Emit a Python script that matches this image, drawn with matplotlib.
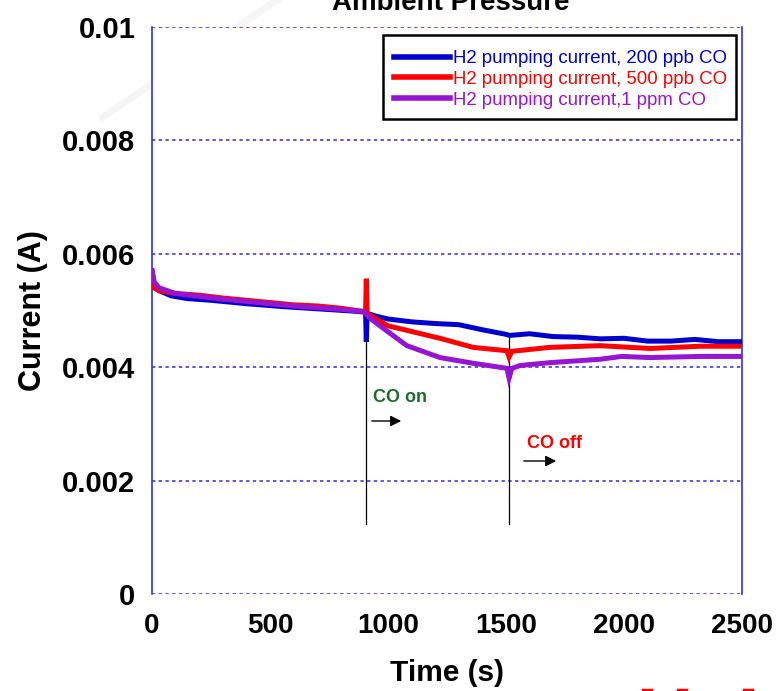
import matplotlib
matplotlib.use("Agg")
import matplotlib.pyplot as plt
from matplotlib.lines import Line2D
from matplotlib.patches import Rectangle

plt.rcParams['font.family'] = ['Liberation Sans', 'DejaVu Sans']

# ---- data ----
t_200 = [0, 10, 30, 80, 150, 250, 400, 550, 700, 850, 905, 908, 912, 950, 1000,
         1100, 1200, 1300, 1400, 1500, 1515, 1600, 1700, 1800, 1900, 2000, 2100,
         2200, 2300, 2400, 2500]
i_200 = [0.0057, 0.0054, 0.00535, 0.00526, 0.00521, 0.00518, 0.00512, 0.00507,
         0.00503, 0.00499, 0.00497, 0.00445, 0.00495, 0.00490, 0.00485,
         0.00480, 0.00477, 0.00475, 0.00466, 0.00458, 0.00456, 0.00459, 0.00454,
         0.00453, 0.00450, 0.00451, 0.00446, 0.00446, 0.00449, 0.00445, 0.00445]

t_500 = [0, 10, 30, 100, 200, 300, 400, 500, 600, 700, 800, 900, 905, 908, 912,
         950, 1000, 1080, 1220, 1360, 1504, 1513, 1525, 1686, 1898, 2110, 2322, 2500]
i_500 = [0.0057, 0.0054, 0.00535, 0.0053, 0.00527, 0.00522, 0.00518, 0.00514,
         0.0051, 0.00508, 0.00504, 0.00498, 0.00497, 0.00556, 0.00495,
         0.00485, 0.00473, 0.00465, 0.00451, 0.00435, 0.00429, 0.00418, 0.00428,
         0.00435, 0.00438, 0.00433, 0.00437, 0.00437]

t_1ppm = [0, 10, 30, 100, 200, 300, 400, 500, 600, 700, 800, 900, 910, 937,
          1008, 1080, 1220, 1360, 1504, 1513, 1525, 1560, 1686, 1898, 1990,
          2110, 2322, 2500]
i_1ppm = [0.0057, 0.0055, 0.0054, 0.0053, 0.00525, 0.0052, 0.00516, 0.00512,
          0.00508, 0.00505, 0.00502, 0.00498, 0.00492, 0.00482,
          0.00460, 0.00438, 0.00417, 0.00407, 0.00398, 0.00381, 0.00398, 0.00403,
          0.00408, 0.00414, 0.00419, 0.00417, 0.00419, 0.00419]

labels = ["H2 pumping current, 200 ppb CO",
          "H2 pumping current, 500 ppb CO",
          "H2 pumping current,1 ppm CO"]
colors = ["#0000CC", "#FF0000", "#9614D2"]

co_on_t = 907
co_off_t = 1513
marker_bottom = 0.00123
co_on_top = 0.00492
co_off_top = 0.00456

xticks = [0, 500, 1000, 1500, 2000, 2500]
yticks = [0, 0.002, 0.004, 0.006, 0.008, 0.01]
ytick_labels = ["0", "0.002", "0.004", "0.006", "0.008", "0.01"]

# ---- figure ----
fig = plt.figure(figsize=(7.76, 6.91), dpi=100)
W, H = 776, 691
L, R, T, B = 152, 742, 27, 594
ax = fig.add_axes([L / W, 1 - B / H, (R - L) / W, (B - T) / H])

# faint diagonal artifact
fig.add_artist(Line2D([277 / W, 103 / W], [1.0, 1 - 117 / H], color="#f5f5f5",
                      lw=5, transform=fig.transFigure, zorder=0))

ax.set_xlim(0, 2500)
ax.set_ylim(0, 0.01)
ax.set_xticks(xticks)
ax.set_xticklabels([str(v) for v in xticks])
ax.set_yticks(yticks)
ax.set_yticklabels(ytick_labels)
ax.tick_params(axis='both', length=0)
ax.tick_params(axis='x', pad=14, labelsize=20)
ax.tick_params(axis='y', pad=12, labelsize=21)
for lab in ax.get_xticklabels() + ax.get_yticklabels():
    lab.set_fontweight('bold')

ax.grid(axis='y', color="#2a2ae0", linestyle=(0, (2.2, 2.2)), lw=1.1)
ax.set_axisbelow(True)
for s in ['top', 'bottom']:
    ax.spines[s].set_visible(False)
for s in ['left', 'right']:
    ax.spines[s].set_color("#3030f0")
    ax.spines[s].set_linewidth(1.2)

# marker lines
ax.plot([co_on_t, co_on_t], [marker_bottom, co_on_top], color='black', lw=0.9, zorder=2)
ax.plot([co_off_t, co_off_t], [marker_bottom, co_off_top], color='black', lw=0.9, zorder=2)

handles = []
for tt, ii, c, lb in zip([t_200, t_500, t_1ppm], [i_200, i_500, i_1ppm], colors, labels):
    h, = ax.plot(tt, ii, color=c, lw=3.6, label=lb, solid_joinstyle='miter', zorder=3)
    handles.append(h)

# legend frame drawn as a rectangle, entries without frame
ax.add_patch(Rectangle((383 / W, 1 - 119 / H), (736 - 383) / W, (119 - 35) / H,
                       transform=fig.transFigure, fill=True, facecolor='white',
                       edgecolor='black', lw=1.8, zorder=4, clip_on=False))
leg = ax.legend(handles=handles, loc='upper right',
                bbox_to_anchor=((727 - L) / (R - L), (B - 50) / (B - T)),
                borderaxespad=0, fontsize=13.4, handlelength=3.0, handletextpad=0.15,
                labelspacing=0.2, frameon=False, borderpad=0,
                labelcolor='linecolor')
leg.set_zorder(5)
for lh in leg.get_lines():
    lh.set_linewidth(4)

# annotations
ax.text(((373 - L) / (R - L)) * 2500, (B - 398) / (B - T) * 0.01, "CO on",
        color="#1a6e2a", fontsize=13, fontweight='bold', va='center', ha='left')
ax.annotate("", xy=(((404 - L) / (R - L)) * 2500, (B - 421) / (B - T) * 0.01),
            xytext=(((369 - L) / (R - L)) * 2500, (B - 421) / (B - T) * 0.01),
            arrowprops=dict(arrowstyle='-|>', color='black', lw=1.0,
                            mutation_scale=16))
ax.text(((527 - L) / (R - L)) * 2500, (B - 444) / (B - T) * 0.01, "CO off",
        color="#FF0000", fontsize=13, fontweight='bold', va='center', ha='left')
ax.annotate("", xy=(((559 - L) / (R - L)) * 2500, (B - 461) / (B - T) * 0.01),
            xytext=(((521 - L) / (R - L)) * 2500, (B - 461) / (B - T) * 0.01),
            arrowprops=dict(arrowstyle='-|>', color='black', lw=1.0,
                            mutation_scale=16))

ax.set_xlabel("Time (s)", fontsize=21.5, fontweight='bold', labelpad=14)
ax.set_ylabel("Current (A)", fontsize=22, fontweight='bold', labelpad=10)

fig.text(451 / W, 1 - 10 / H, "Ambient Pressure", fontsize=20, fontweight='bold',
         ha='center', va='baseline')

# red fragments at bottom edge
for xp in [647, 682, 748]:
    fig.add_artist(Line2D([(xp - 4) / W, (xp + 4) / W], [1.5 / H, 1.5 / H],
                          color='red', lw=2.5, transform=fig.transFigure))

fig.savefig("out.png", dpi=100)
